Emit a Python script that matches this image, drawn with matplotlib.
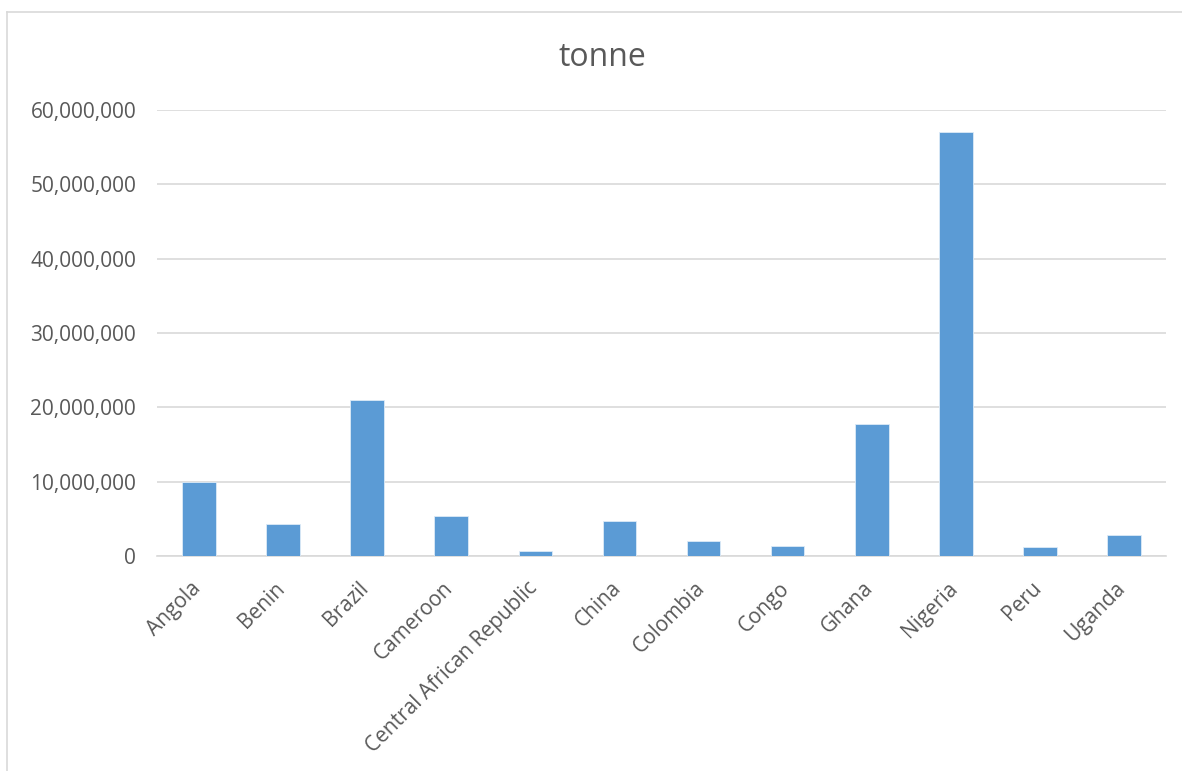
import matplotlib.pyplot as plt
import matplotlib.transforms as mtransforms
from matplotlib.ticker import FuncFormatter, MultipleLocator
from matplotlib.lines import Line2D

# Values (tonnes)
countries = ["Angola", "Benin", "Brazil", "Cameroon", "Central African Republic",
             "China", "Colombia", "Congo", "Ghana", "Nigeria", "Peru", "Uganda"]
tonnes = [9950000, 4270000, 21050000, 5440000, 670000,
          4760000, 2070000, 1300000, 17800000, 57060000, 1170000, 2880000]

bar_color = "#5B9BD5"
text_color = "#595959"
grid_color = "#D9D9D9"

plt.rcParams['font.family'] = ['Open Sans', 'DejaVu Sans']

W, H = 1182, 771
fig = plt.figure(figsize=(W / 100, H / 100), dpi=100)
ax = fig.add_axes([157 / W, 1 - 556 / H, (1166 - 157) / W, (556 - 110) / H])

x = range(len(countries))
ax.bar(x, tonnes, width=0.4, color=bar_color, edgecolor="#DDEBF7", linewidth=0.6, zorder=3)

ax.set_xlim(-0.5, len(countries) - 0.5)
ax.set_ylim(0, 60000000)
ax.yaxis.set_major_locator(MultipleLocator(10000000))
ax.yaxis.set_major_formatter(FuncFormatter(lambda v, p: f"{int(v):,}"))
ax.grid(axis="y", color=grid_color, linewidth=1.2, zorder=0)

for s in ["top", "right", "left"]:
    ax.spines[s].set_visible(False)
ax.spines["bottom"].set_color(grid_color)
ax.spines["bottom"].set_linewidth(1.2)

ax.set_xticks(list(x))
ax.set_xticklabels(countries, rotation=45, ha="right", rotation_mode="anchor",
                   fontsize=15, color=text_color)
ax.tick_params(axis="x", length=0, pad=7)
ax.tick_params(axis="y", length=0, pad=15, labelsize=15, labelcolor=text_color)

# nudge the rotated labels so their ends sit under the bars like in Excel
shift = mtransforms.ScaledTranslation(-9 / 100, -12 / 100, fig.dpi_scale_trans)
for lbl in ax.get_xticklabels():
    lbl.set_transform(lbl.get_transform() + shift)

fig.text(602 / W, 1 - 57 / H, "tonne", ha="center", va="center",
         fontsize=23, color=text_color)

# chart area border (top and left edges visible)
fig.add_artist(Line2D([7 / W, 1], [1 - 11.5 / H, 1 - 11.5 / H], color="#D9D9D9", linewidth=1.2))
fig.add_artist(Line2D([7 / W, 7 / W], [0, 1 - 11.5 / H], color="#D9D9D9", linewidth=1.2))

fig.savefig("out.png", dpi=100, facecolor="white")
